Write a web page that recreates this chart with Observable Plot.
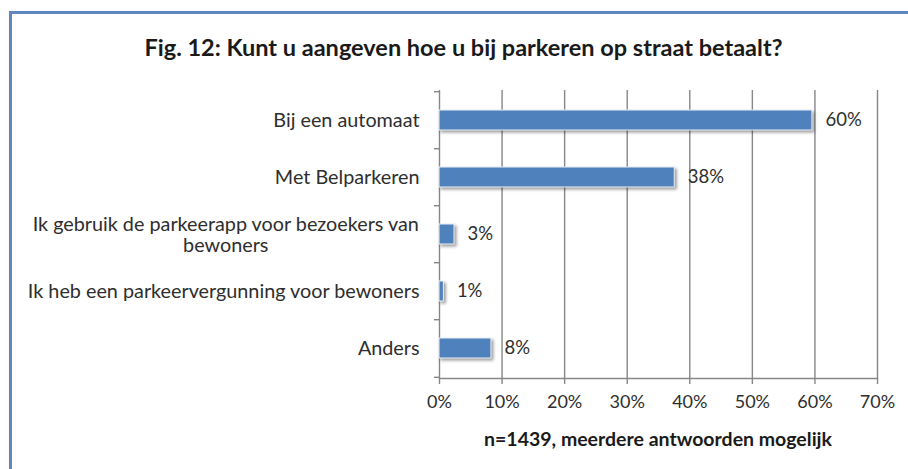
<!DOCTYPE html>
<html><head><meta charset="utf-8">
<script src="https://cdn.jsdelivr.net/npm/d3@7"></script>
<script src="https://cdn.jsdelivr.net/npm/@observablehq/plot@0.6"></script>
<style>
html,body{margin:0;padding:0;background:#fff;overflow:hidden;width:908px;height:469px}
#frame{position:absolute;left:9px;top:11px;width:1000px;height:600px;border-left:3px solid #5f87bd;border-top:3px solid #5f87bd;box-sizing:border-box}
#title{position:absolute;left:0;width:927px;top:33px;line-height:28px;text-align:center;font:bold 23.5px Lato;color:#1a1a1a;white-space:nowrap}
#chart{position:absolute;left:0;top:0}
#caption{position:absolute;left:439px;width:438px;top:427px;line-height:22px;text-align:center;font:bold 19.5px Lato;color:#1a1a1a;white-space:nowrap}
#chart g[aria-label="bar"] rect{filter:drop-shadow(2px 2px 1.5px rgba(0,0,0,.38))}
</style>
</head><body>
<div id="frame"></div>
<div id="title">Fig. 12: Kunt u aangeven hoe u bij parkeren op straat betaalt?</div>
<div id="chart"></div>
<div id="caption">n=1439, meerdere antwoorden mogelijk</div>
<script>
const categories = [
  "Bij een automaat",
  "Met Belparkeren",
  "Ik gebruik de parkeerapp voor bezoekers van bewoners",
  "Ik heb een parkeervergunning voor bewoners",
  "Anders"
];
const categoryLines = [
  ["Bij een automaat"],
  ["Met Belparkeren"],
  ["Ik gebruik de parkeerapp voor bezoekers van", "bewoners"],
  ["Ik heb een parkeervergunning voor bewoners"],
  ["Anders"]
];
const values = [59.6, 37.6, 2.4, 0.7, 8.3];
const valueLabels = ["60%", "38%", "3%", "1%", "8%"];
const xTicks = [0, 10, 20, 30, 40, 50, 60, 70];

const data = categories.map((c, i) => ({
  cat: c, value: values[i], label: valueLabels[i],
  text: categoryLines[i].join("\n"), wrapped: categoryLines[i].length > 1,
  longest: categoryLines[i].reduce((a, b) => b.length > a.length ? b : a, "")
}));

const FS = 18;     // tick & value labels
const FSY = 19.8;  // category labels
const ctx = document.createElement("canvas").getContext("2d");
ctx.font = `${FSY}px Lato`;
const wrapped = data.filter(d => d.wrapped);
const single = data.filter(d => !d.wrapped);
const wrapW = wrapped.length ? ctx.measureText(wrapped[0].longest).width : 0;

const H = 469, mT = 90, mB = 91;
const halfStep = (H - mT - mB) / categories.length / 2;
const gray = "#878787";
const ink = "#2e2e2e";

const plot = Plot.plot({
  width: 908, height: H,
  marginLeft: 439, marginRight: 31, marginTop: mT, marginBottom: mB,
  style: {fontFamily: "Lato", fontSize: FS + "px", color: ink, background: "transparent", overflow: "visible"},
  x: {domain: [0, 70]},
  y: {domain: categories, paddingInner: 0.65, paddingOuter: 0.325},
  marks: [
    Plot.gridX(xTicks.slice(1), {stroke: gray, strokeOpacity: 1, strokeWidth: 1.4}),
    Plot.frame({anchor: "bottom", stroke: gray, strokeWidth: 1.4}),
    Plot.ruleX([0], {stroke: gray, strokeWidth: 1.4}),
    Plot.axisX(xTicks, {tickSize: 6, tickPadding: 11, tickFormat: d => d + "%", stroke: gray, strokeWidth: 1.4, label: null, fontSize: FS}),
    Plot.axisY(categories, {tickSize: 5, tickFormat: () => "", dy: -halfStep, stroke: gray, strokeWidth: 1.4, label: null}),
    Plot.axisY(categories.slice(-1), {tickSize: 5, tickFormat: () => "", dy: halfStep, stroke: gray, strokeWidth: 1.4, label: null}),
    Plot.barX(data, {x: "value", y: "cat", fill: "#4f81bd", stroke: "#eaf0f7", strokeWidth: 1}),
    Plot.text(data, {x: "value", y: "cat", text: "label", textAnchor: "start", dx: 13, fontSize: 18.5, fill: ink}),
    Plot.text(single, {y: "cat", text: "text", frameAnchor: "left", textAnchor: "end", dx: -20, fontSize: FSY, fill: ink}),
    Plot.text(wrapped, {y: "cat", text: "text", frameAnchor: "left", textAnchor: "middle", dx: -(20 + wrapW / 2), lineHeight: 1.1, fontSize: FSY, fill: ink})
  ]
});
document.getElementById("chart").append(plot);
</script>
</body></html>
